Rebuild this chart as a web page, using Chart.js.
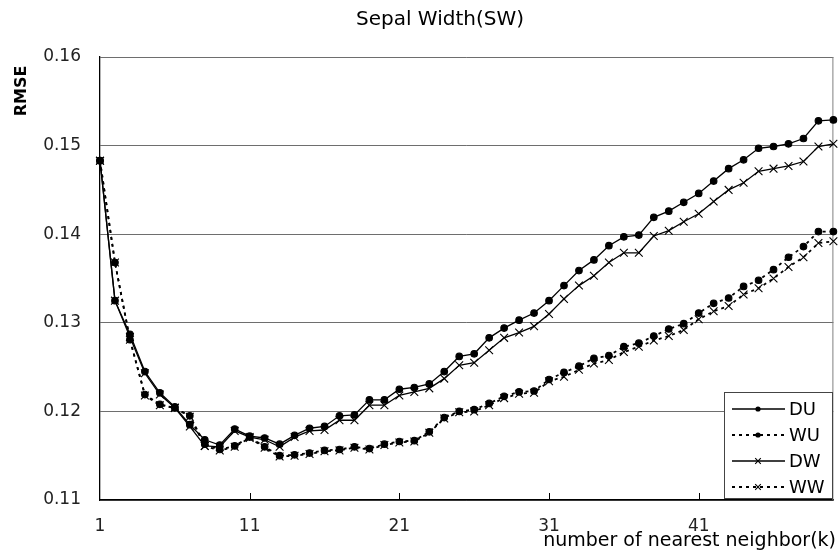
<!DOCTYPE html>
<html lang="en">
<head>
    <meta charset="UTF-8">
    <title>Sepal Width(SW)</title>
    <style>
        html, body { margin: 0; padding: 0; background: #fff; }
        #chartBox { width: 840px; height: 560px; }
    </style>
</head>
<body>
    <div id="chartBox">
        <canvas id="rmseChart" width="840" height="560"></canvas>
    </div>
<script src="https://cdn.jsdelivr.net/npm/chart.js"></script>
<script>
    // k = number of nearest neighbors
    const kValues = [1, 2, 3, 4, 5, 6, 7, 8, 9, 10, 11, 12, 13, 14, 15, 16, 17, 18, 19, 20,
        21, 22, 23, 24, 25, 26, 27, 28, 29, 30, 31, 32, 33, 34, 35, 36, 37, 38, 39, 40,
        41, 42, 43, 44, 45, 46, 47, 48, 49, 50];
    const xTickLabels = [1, 11, 21, 31, 41];
    const yTickLabels = [0.11, 0.12, 0.13, 0.14, 0.15, 0.16];

    const seriesNames = ['DU', 'WU', 'DW', 'WW'];

    const duValues = [0.1483, 0.1325, 0.1287, 0.1245, 0.1221, 0.1205, 0.1185, 0.1168, 0.1162, 0.1180,
        0.1172, 0.1170, 0.1163, 0.1173, 0.1181, 0.1183, 0.1195, 0.1196, 0.1213, 0.1213,
        0.1225, 0.1227, 0.1231, 0.1245, 0.1262, 0.1265, 0.1283, 0.1294, 0.1303, 0.1311,
        0.1325, 0.1342, 0.1359, 0.1371, 0.1387, 0.1397, 0.1399, 0.1419, 0.1426, 0.1436,
        0.1446, 0.1460, 0.1474, 0.1484, 0.1497, 0.1499, 0.1502, 0.1508, 0.1528, 0.1529];

    const wuValues = [0.1483, 0.1368, 0.1281, 0.1219, 0.1208, 0.1204, 0.1195, 0.1163, 0.1157, 0.1161,
        0.1171, 0.1160, 0.1150, 0.1151, 0.1153, 0.1156, 0.1157, 0.1160, 0.1158, 0.1163,
        0.1166, 0.1167, 0.1177, 0.1193, 0.1200, 0.1202, 0.1209, 0.1217, 0.1222, 0.1223,
        0.1236, 0.1244, 0.1251, 0.1260, 0.1263, 0.1273, 0.1277, 0.1285, 0.1293, 0.1299,
        0.1311, 0.1322, 0.1328, 0.1341, 0.1348, 0.1360, 0.1374, 0.1386, 0.1403, 0.1403];

    const dwValues = [0.1483, 0.1325, 0.1284, 0.1243, 0.1219, 0.1204, 0.1183, 0.1161, 0.1160, 0.1178,
        0.1171, 0.1168, 0.1160, 0.1171, 0.1178, 0.1179, 0.1190, 0.1190, 0.1207, 0.1207,
        0.1218, 0.1222, 0.1226, 0.1237, 0.1252, 0.1255, 0.1269, 0.1283, 0.1289, 0.1296,
        0.1310, 0.1327, 0.1342, 0.1353, 0.1368, 0.1379, 0.1379, 0.1398, 0.1404, 0.1414,
        0.1423, 0.1437, 0.1450, 0.1458, 0.1471, 0.1474, 0.1477, 0.1482, 0.1499, 0.1502];

    const wwValues = [0.1483, 0.1368, 0.1281, 0.1218, 0.1207, 0.1204, 0.1194, 0.1161, 0.1156, 0.1160,
        0.1170, 0.1159, 0.1149, 0.1150, 0.1152, 0.1155, 0.1156, 0.1159, 0.1157, 0.1162,
        0.1165, 0.1166, 0.1176, 0.1192, 0.1199, 0.1200, 0.1207, 0.1215, 0.1220, 0.1221,
        0.1234, 0.1239, 0.1247, 0.1254, 0.1258, 0.1267, 0.1273, 0.1280, 0.1285, 0.1292,
        0.1304, 0.1313, 0.1319, 0.1332, 0.1339, 0.1350, 0.1363, 0.1374, 0.1390, 0.1392];

    const FONT = '"DejaVu Sans", sans-serif';

    function makeDataset(label, values, dotted, marker) {
        return {
            label: label,
            data: values,
            borderColor: '#000',
            backgroundColor: '#000',
            borderWidth: dotted ? 1.8 : 1.3,
            borderDash: dotted ? [3, 4] : [],
            tension: 0,
            pointStyle: marker,
            pointRadius: marker === 'circle' ? 3.3 : 5.5,
            pointBorderWidth: 1.1,
            pointBorderColor: '#000',
            pointBackgroundColor: '#000',
            clip: false
        };
    }

    // grey right border + small inward tick marks on the x axis
    const framePlugin = {
        id: 'frame',
        beforeDatasetsDraw(chart) {
            const ctx = chart.ctx;
            const area = chart.chartArea;
            const xScale = chart.scales.x;
            ctx.save();
            ctx.strokeStyle = '#808080';
            ctx.lineWidth = 1;
            ctx.beginPath();
            ctx.moveTo(area.right - 0.5, area.top);
            ctx.lineTo(area.right - 0.5, area.bottom);
            ctx.stroke();
            ctx.strokeStyle = '#000';
            xTickLabels.forEach(k => {
                if (k === 1) return;
                const x = Math.round(xScale.getPixelForValue(kValues.indexOf(k))) + 0.5;
                ctx.beginPath();
                ctx.moveTo(x, area.bottom);
                ctx.lineTo(x, area.bottom - 7);
                ctx.stroke();
            });
            ctx.restore();
        }
    };

    // legend box inside the plot, bottom right
    const legendPlugin = {
        id: 'boxLegend',
        afterDraw(chart) {
            const ctx = chart.ctx;
            const left = 724, top = 392, w = 108, h = 106;
            ctx.save();
            ctx.fillStyle = '#fff';
            ctx.fillRect(left, top, w, h);
            ctx.strokeStyle = '#444';
            ctx.lineWidth = 1;
            ctx.strokeRect(left + 0.5, top + 0.5, w, h);
            chart.data.datasets.forEach((ds, i) => {
                const y = top + 17 + i * 26;
                ctx.strokeStyle = '#000';
                ctx.lineWidth = ds.borderWidth;
                ctx.setLineDash(ds.borderDash);
                ctx.beginPath();
                ctx.moveTo(732, y);
                ctx.lineTo(785, y);
                ctx.stroke();
                ctx.setLineDash([]);
                const cx = 758;
                if (ds.pointStyle === 'circle') {
                    ctx.fillStyle = '#000';
                    ctx.beginPath();
                    ctx.arc(cx, y, 2.6, 0, Math.PI * 2);
                    ctx.fill();
                } else {
                    const r = 2.8;
                    ctx.lineWidth = 1.1;
                    ctx.beginPath();
                    ctx.moveTo(cx - r, y - r); ctx.lineTo(cx + r, y + r);
                    ctx.moveTo(cx - r, y + r); ctx.lineTo(cx + r, y - r);
                    ctx.stroke();
                }
                ctx.fillStyle = '#000';
                ctx.font = '18px ' + FONT;
                ctx.textAlign = 'left';
                ctx.textBaseline = 'middle';
                ctx.fillText(ds.label, 789, y + 1);
            });
            ctx.restore();
        }
    };

    // chart title and axis titles
    const titlesPlugin = {
        id: 'titles',
        afterDraw(chart) {
            const ctx = chart.ctx;
            ctx.save();
            ctx.fillStyle = '#000';
            ctx.textBaseline = 'alphabetic';

            ctx.font = '20px ' + FONT;
            ctx.textAlign = 'center';
            ctx.fillText('Sepal Width(SW)', 440, 25);

            ctx.font = '19px ' + FONT;
            ctx.textAlign = 'right';
            ctx.fillText('number of nearest neighbor(k)', 836, 546);

            ctx.translate(26, 91);
            ctx.rotate(-Math.PI / 2);
            ctx.font = 'bold 16px ' + FONT;
            ctx.textAlign = 'center';
            ctx.fillText('RMSE', 0, 0);
            ctx.restore();
        }
    };

    function makeChart() {
        const ctx = document.getElementById('rmseChart');
        new Chart(ctx, {
            type: 'line',
            data: {
                labels: kValues.map(String),
                datasets: [
                    makeDataset(seriesNames[0], duValues, false, 'circle'),
                    makeDataset(seriesNames[1], wuValues, true, 'circle'),
                    makeDataset(seriesNames[2], dwValues, false, 'crossRot'),
                    makeDataset(seriesNames[3], wwValues, true, 'crossRot')
                ]
            },
            options: {
                responsive: false,
                animation: false,
                devicePixelRatio: 1,
                layout: { padding: { top: 57, right: 4, left: 0, bottom: 0 } },
                plugins: {
                    legend: { display: false },
                    title: { display: false },
                    tooltip: { enabled: false }
                },
                scales: {
                    x: {
                        type: 'category',
                        offset: false,
                        afterFit: (scale) => { scale.height = 60; },
                        afterBuildTicks: (scale) => {
                            scale.ticks = scale.ticks.filter(t => xTickLabels.includes(kValues[t.value]));
                        },
                        grid: { display: false, drawTicks: false },
                        border: { display: true, color: '#000', width: 1.5 },
                        ticks: {
                            autoSkip: false,
                            maxRotation: 0,
                            padding: 16,
                            color: '#222',
                            font: { family: FONT, size: 17 }
                        }
                    },
                    y: {
                        min: 0.11,
                        max: 0.16,
                        afterFit: (scale) => { scale.width = 100; },
                        afterBuildTicks: (scale) => {
                            scale.ticks = yTickLabels.map(v => ({ value: v }));
                        },
                        grid: { color: '#6e6e6e', lineWidth: 1, drawTicks: false },
                        border: { display: true, color: '#000', width: 1.3 },
                        ticks: {
                            padding: 19,
                            color: '#222',
                            font: { family: FONT, size: 17 },
                            callback: (v) => Number(v).toFixed(2)
                        }
                    }
                }
            },
            plugins: [framePlugin, legendPlugin, titlesPlugin]
        });
    }

    window.onload = makeChart;
</script>
</body>
</html>
